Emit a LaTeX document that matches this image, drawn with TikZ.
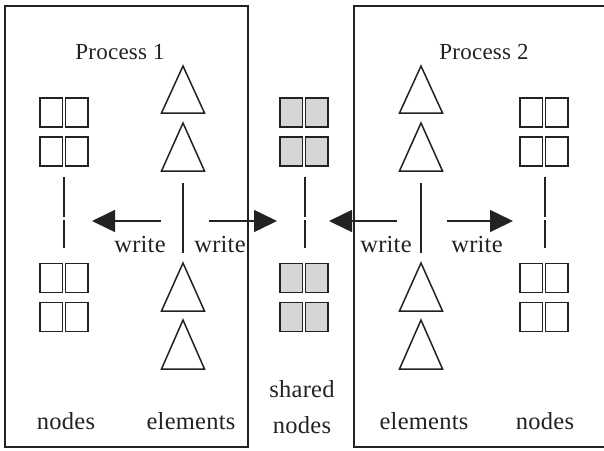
\documentclass[tikz,border=0pt]{standalone}
\usepackage{fontspec}
\setmainfont{Liberation Serif}
\newfontfamily\lblfont[LetterSpace=1]{Liberation Serif}
\usetikzlibrary{arrows.meta}
\definecolor{ink}{HTML}{222222}
\definecolor{shade}{HTML}{D6D6D6}
\tikzset{
  frame/.style={draw=ink, line width=1.8pt},
  cell/.style={draw=ink, line width=1.5pt, minimum width=22.5pt, minimum height=29pt, inner sep=0pt},
  sharedcell/.style={cell, fill=shade},
  tri/.style={draw=ink, line width=1.5pt, line join=miter},
  link/.style={draw=ink, line width=1.5pt},
  writearrow/.style={draw=ink, line width=1.5pt, -{Triangle[length=23pt,width=22pt]}},
  lbl/.style={font=\lblfont\fontsize{24.5}{26}\selectfont, text=ink, inner sep=0pt, anchor=base},
  title/.style={font=\lblfont\fontsize{23}{25}\selectfont, text=ink, inner sep=0pt, anchor=base},
}
\newcommand{\cellgrid}[4]{% name, cx, cy, style
  \node[#4] (#1a) at (#2-12.75, #3-19.5) {};
  \node[#4] (#1b) at (#2+12.75, #3-19.5) {};
  \node[#4] (#1c) at (#2-12.75, #3+19.5) {};
  \node[#4] (#1d) at (#2+12.75, #3+19.5) {};
}
\newcommand{\elemtri}[4]{% name, cx, apex y, base y
  \coordinate (#1) at (#2, #3);
  \draw[tri] (#2, #3) -- (#2+21.5, #4) -- (#2-21.5, #4) -- cycle;
}
\begin{document}
\begin{tikzpicture}[x=1pt, y=-1pt]
\useasboundingbox (0,0) rectangle (604,450);
\fill[white] (0,0) rectangle (604,450);
% process frames
\draw[frame] (5,6) rectangle (248,447);
\begin{scope}
\clip (0,0) rectangle (604,450);
\draw[frame] (354,6) rectangle (610,447);
\end{scope}
\node[title] (p1) at (120,59) {Process 1};
\node[title] (p2) at (484,59) {Process 2};
% node grids
\cellgrid{ln1}{64}{132}{cell}
\cellgrid{ln2}{64}{297.5}{cell}
\cellgrid{sn1}{304}{132}{sharedcell}
\cellgrid{sn2}{304}{297.5}{sharedcell}
\cellgrid{rn1}{544}{132}{cell}
\cellgrid{rn2}{544}{297.5}{cell}
% element triangles
\elemtri{le1}{183}{66}{113}
\elemtri{le2}{183}{123}{171}
\elemtri{le3}{183}{263}{311}
\elemtri{le4}{183}{320}{369}
\elemtri{re1}{421}{66}{113}
\elemtri{re2}{421}{123}{171}
\elemtri{re3}{421}{263}{311}
\elemtri{re4}{421}{320}{369}
% vertical links
\coordinate (lnA) at (64,177); \coordinate (lnB) at (64,217);
\coordinate (lnC) at (64,220); \coordinate (lnD) at (64,248);
\draw[link] (lnA) -- (lnB); \draw[link] (lnC) -- (lnD);
\coordinate (snA) at (305,177); \coordinate (snB) at (305,217);
\coordinate (snC) at (305,220); \coordinate (snD) at (305,248);
\draw[link] (snA) -- (snB); \draw[link] (snC) -- (snD);
\coordinate (rnA) at (545,177); \coordinate (rnB) at (545,217);
\coordinate (rnC) at (545,220); \coordinate (rnD) at (545,248);
\draw[link] (rnA) -- (rnB); \draw[link] (rnC) -- (rnD);
\coordinate (leA) at (183,183); \coordinate (leB) at (183,253);
\draw[link] (leA) -- (leB);
\coordinate (reA) at (421,183); \coordinate (reB) at (421,253);
\draw[link] (reA) -- (reB);
% write arrows
\coordinate (w1s) at (161,221); \coordinate (w1e) at (92,221);
\coordinate (w2s) at (209,221); \coordinate (w2e) at (277,221);
\coordinate (w3s) at (397,221); \coordinate (w3e) at (329,221);
\coordinate (w4s) at (447,221); \coordinate (w4e) at (513,221);
\draw[writearrow] (w1s) -- (w1e);
\draw[writearrow] (w2s) -- (w2e);
\draw[writearrow] (w3s) -- (w3e);
\draw[writearrow] (w4s) -- (w4e);
\node[lbl] (wl1) at (140,252) {write};
\node[lbl] (wl2) at (220,252) {write};
\node[lbl] (wl3) at (386,252) {write};
\node[lbl] (wl4) at (477,252) {write};
% bottom labels
\node[lbl] (b1) at (66,429) {nodes};
\node[lbl] (b2) at (191,429) {elements};
\node[lbl] (b3) at (302,397) {shared};
\node[lbl] (b4) at (302,433) {nodes};
\node[lbl] (b5) at (424,429) {elements};
\node[lbl] (b6) at (545,429) {nodes};
\end{tikzpicture}
\end{document}
